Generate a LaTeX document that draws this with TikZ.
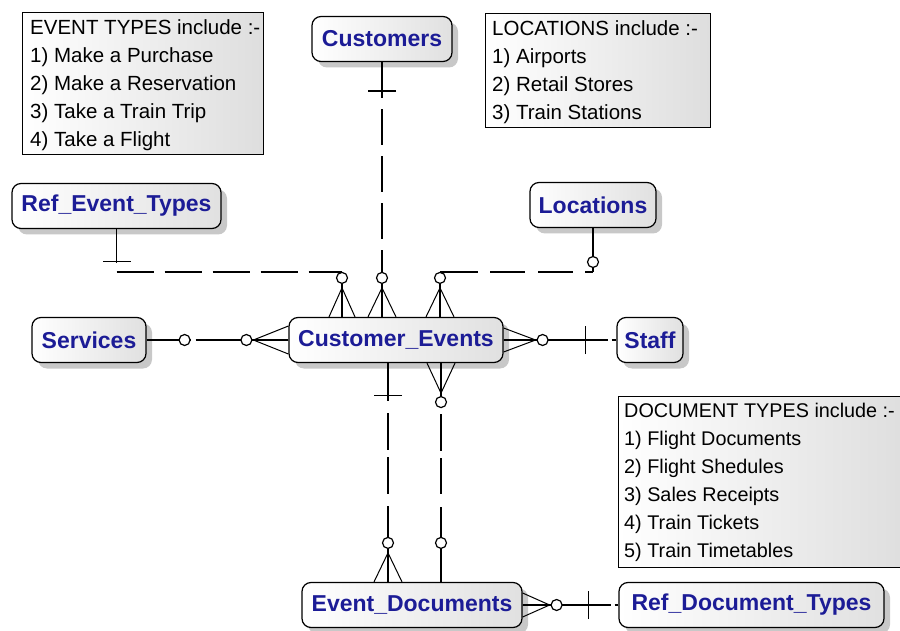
\documentclass[tikz,border=0pt]{standalone}
\usepackage{fontspec}
\setmainfont{Liberation Sans}
\usetikzlibrary{calc,shadows}
\definecolor{entblue}{RGB}{28,28,150}
\definecolor{shadowgray}{RGB}{200,200,200}
\newcommand\crowsfoot[3]{\draw[prong] (#1) -- ($(#2)+(#3)$) (#1) -- (#2) (#1) -- ($(#2)-(#3)$);}
\newcommand\ticmark[2]{\draw[conn] ($(#1)+(#2)$) -- ($(#1)-(#2)$);}
\newcommand\zeromark[1]{\draw[conn,fill=white] (#1) circle (5.5pt);}
\begin{document}
\begin{tikzpicture}[x=1pt,y=-1pt,
  entity/.style={draw=black, line width=1.2pt, rounded corners=9pt, left color=white, right color=black!12, text=entblue, font=\fontsize{23}{27}\selectfont\bfseries, minimum height=45pt, inner sep=0pt, drop shadow={shadow xshift=6pt, shadow yshift=-6pt, fill=shadowgray, opacity=1}},
  notebox/.style={draw=black, line width=1.3pt, left color=white, right color=black!13, anchor=north west, inner sep=0pt},
  notetext/.style={anchor=north west, inner sep=0pt, align=left, font=\fontsize{20.5}{28}\selectfont},
  conn/.style={line width=1.2pt, black},
  prong/.style={line width=1pt, black},
]
\useasboundingbox (0,0) rectangle (900,631);
\clip (0,0) rectangle (900,631);
\fill[white] (0,0) rectangle (900,631);

% notes
\node[notebox, minimum width=241pt, minimum height=142pt] (evbox) at (22,12) {};
\node[notetext] (evtext) at ($(evbox.north west)+(8,7)$) {EVENT TYPES include :-\\1) Make a Purchase\\2) Make a Reservation\\3) Take a Train Trip\\4) Take a Flight};
\node[notebox, minimum width=225pt, minimum height=114pt] (locbox) at (485,13) {};
\node[notetext] (loctext) at ($(locbox.north west)+(7,7)$) {LOCATIONS include :-\\1) Airports\\2) Retail Stores\\3) Train Stations};
\node[notebox, minimum width=290pt, minimum height=171pt] (docbox) at (618,396) {};
\node[notetext, font=\fontsize{19.8}{28}\selectfont] (doctext) at ($(docbox.north west)+(6,7)$) {DOCUMENT TYPES include :-\\1) Flight Documents\\2) Flight Shedules\\3) Sales Receipts\\4) Train Tickets\\5) Train Timetables};

% entities
\node[entity, minimum width=140pt] (cust) at (382,39) {Customers};
\node[entity, minimum width=209pt] (ret) at (116.5,206) {Ref\_Event\_Types};
\node[entity, minimum width=126pt] (loc) at (593,205) {Locations};
\node[entity, minimum width=114pt] (svc) at (89,340) {Services};
\node[entity, minimum width=214pt] (ce) at (396,340) {Customer\_Events};
\node[entity, minimum width=66pt] (staff) at (650,340) {Staff};
\node[entity, minimum width=220pt] (ed) at (412,605) {Event\_Documents};
\node[entity, minimum width=265pt] (rdt) at (751.5,605) {Ref\_Document\_Types};

\coordinate (hl) at (0,272);

% Ref_Event_Types -- Customer_Events
\coordinate (A1) at ($(ce.north)+(-54,0)$);
\coordinate (A0) at (A1 |- hl);
\draw[conn] (ret.south) -- ++(0,34);
\draw[conn, dash pattern=on 37pt off 11pt] (ret.south |- hl) -- (A0);
\draw[conn] (A0) -- (A1);
\coordinate (Atick) at ($(ret.south)+(0,32.5)$);
\ticmark{Atick}{14,0}
\crowsfoot{$(A1)+(0,-29)$}{A1}{13,0}
\zeromark{$(A1)+(0,-39)$}

% Customers -- Customer_Events
\coordinate (B1) at (cust.south |- ce.north);
\draw[conn, dash pattern=on 36pt off 11pt] (cust.south) -- (B1);
\draw[conn] (cust.south |- hl) -- (B1);
\coordinate (Btick) at ($(cust.south)+(0,29)$);
\ticmark{Btick}{14,0}
\crowsfoot{$(B1)+(0,-29)$}{B1}{14,0}
\zeromark{$(B1)+(0,-39)$}

% Locations -- Customer_Events
\coordinate (C1) at ($(ce.north)+(44,0)$);
\coordinate (C0) at (C1 |- hl);
\coordinate (Cc) at (loc.south |- hl);
\draw[conn] (loc.south) -- (Cc);
\draw[conn, dash pattern=on 38pt off 12pt on 35pt off 13pt on 35pt off 12pt on 30pt] (C0) -- (Cc);
\draw[conn] (C0) -- (C1);
\crowsfoot{$(C1)+(0,-29)$}{C1}{14,0}
\zeromark{$(C1)+(0,-39)$}
\zeromark{$(Cc)+(0,-10)$}

% Services -- Customer_Events
\coordinate (D1) at (svc.east -| ce.west);
\draw[conn, dash pattern=on 44pt off 5pt on 300pt] (svc.east) -- (D1);
\crowsfoot{$(D1)+(-35,0)$}{D1}{0,14}
\zeromark{$(svc.east)+(38,0)$}
\zeromark{$(D1)+(-42,0)$}

% Customer_Events -- Staff
\coordinate (E0) at (ce.east);
\draw[conn, dash pattern=on 104pt off 4pt on 40pt] (ce.east) -- (staff.west);
\crowsfoot{$(E0)+(32,0)$}{E0}{0,12}
\zeromark{$(E0)+(39,0)$}
\coordinate (Etick) at ($(E0)+(82,0)$);
\ticmark{Etick}{0,14}

% Customer_Events -- Event_Documents (1)
\coordinate (F0) at ($(ce.south)+(-8,0)$);
\coordinate (F1) at (F0 |- ed.north);
\draw[conn, dash pattern=on 38pt off 12pt on 37pt off 7pt on 37pt off 12pt on 200pt] (F0) -- (F1);
\coordinate (Ftick) at ($(F0)+(0,32)$);
\ticmark{Ftick}{14,0}
\crowsfoot{$(F1)+(0,-29)$}{F1}{14,0}
\zeromark{$(F1)+(0,-39)$}

% Customer_Events -- Event_Documents (2)
\coordinate (G0) at ($(ce.south)+(45,0)$);
\coordinate (G1) at (G0 |- ed.north);
\draw[conn, dash pattern=on 44pt off 7pt on 37pt off 7pt on 36pt off 13pt on 200pt] (G0) -- (G1);
\crowsfoot{$(G0)+(0,30)$}{G0}{14,0}
\zeromark{$(G0)+(0,39)$}
\zeromark{$(G1)+(0,-39)$}

% Event_Documents -- Ref_Document_Types
\coordinate (H0) at (ed.east);
\draw[conn, dash pattern=on 88pt off 4pt on 40pt] (ed.east) -- (rdt.west);
\crowsfoot{$(H0)+(27,0)$}{H0}{0,12}
\zeromark{$(H0)+(34,0)$}
\coordinate (Htick) at ($(H0)+(66,0)$);
\ticmark{Htick}{0,14}
\end{tikzpicture}
\end{document}
